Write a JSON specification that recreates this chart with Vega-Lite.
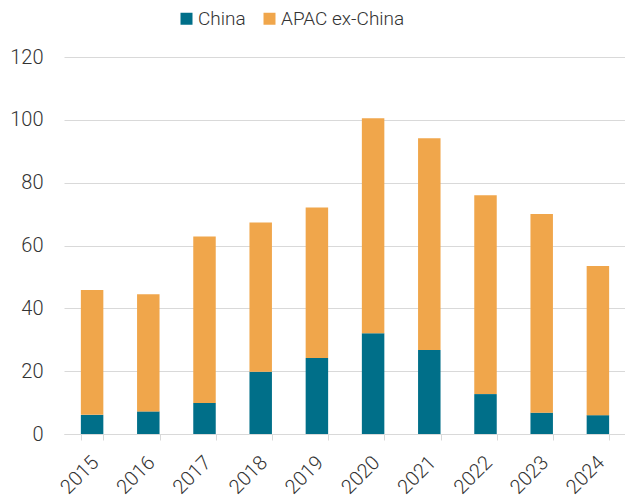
{
  "$schema": "https://vega.github.io/schema/vega-lite/v6.json",
  "width": 562,
  "height": 377,
  "autosize": {"type": "none"},
  "padding": {"left": 64, "top": 57, "right": 0, "bottom": 65},
  "background": "white",
  "config": {
    "view": {"stroke": null},
    "font": "Roboto",
    "axis": {"labelFont": "Roboto", "labelFontWeight": 300, "labelColor": "#333333", "labelFontSize": 20}
  },
  "data": {
    "values": [
      {"year": "2015", "region": "China", "value": 6.1},
      {"year": "2015", "region": "APAC ex-China", "value": 39.7},
      {"year": "2016", "region": "China", "value": 7.2},
      {"year": "2016", "region": "APAC ex-China", "value": 37.3},
      {"year": "2017", "region": "China", "value": 9.9},
      {"year": "2017", "region": "APAC ex-China", "value": 53.0},
      {"year": "2018", "region": "China", "value": 19.8},
      {"year": "2018", "region": "APAC ex-China", "value": 47.5},
      {"year": "2019", "region": "China", "value": 24.2},
      {"year": "2019", "region": "APAC ex-China", "value": 47.9},
      {"year": "2020", "region": "China", "value": 32.1},
      {"year": "2020", "region": "APAC ex-China", "value": 68.4},
      {"year": "2021", "region": "China", "value": 26.7},
      {"year": "2021", "region": "APAC ex-China", "value": 67.4},
      {"year": "2022", "region": "China", "value": 12.7},
      {"year": "2022", "region": "APAC ex-China", "value": 63.3},
      {"year": "2023", "region": "China", "value": 6.8},
      {"year": "2023", "region": "APAC ex-China", "value": 63.2},
      {"year": "2024", "region": "China", "value": 6.0},
      {"year": "2024", "region": "APAC ex-China", "value": 47.5}
    ]
  },
  "mark": {"type": "bar"},
  "encoding": {
    "x": {
      "field": "year",
      "type": "ordinal",
      "scale": {"paddingInner": 0.6, "paddingOuter": 0.3},
      "axis": {
        "title": null,
        "labelAngle": -45,
        "labelPadding": 12,
        "labelOffset": -4,
        "domainColor": "#d9d9d9",
        "tickColor": "#d9d9d9",
        "tickSize": 6,
        "tickBand": "extent",
        "grid": false
      }
    },
    "y": {
      "field": "value",
      "type": "quantitative",
      "stack": "zero",
      "scale": {"domain": [0, 120]},
      "axis": {
        "title": null,
        "values": [0, 20, 40, 60, 80, 100, 120],
        "domain": false,
        "ticks": false,
        "labelPadding": 21,
        "gridColor": "#d9d9d9",
        "gridWidth": 1
      }
    },
    "color": {
      "field": "region",
      "type": "nominal",
      "sort": ["China", "APAC ex-China"],
      "scale": {"domain": ["China", "APAC ex-China"], "range": ["#006f89", "#f0a64b"]},
      "legend": {
        "title": null,
        "orient": "none",
        "direction": "horizontal",
        "legendX": 113,
        "legendY": -48,
        "symbolType": "square",
        "symbolSize": 144,
        "symbolStrokeWidth": 0,
        "labelFont": "Roboto",
        "labelFontWeight": 300,
        "labelFontSize": 19,
        "labelColor": "#333333",
        "labelOffset": 2,
        "columnPadding": 14
      }
    }
  }
}
